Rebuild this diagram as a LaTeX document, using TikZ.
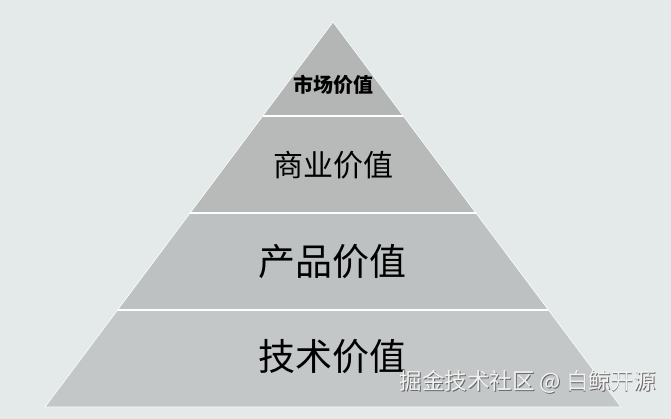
\documentclass[tikz,border=0pt]{standalone}
\usepackage{fontspec}
\newfontfamily\cjk{Noto Sans CJK SC}
\usetikzlibrary{calc}
\definecolor{bgc}{HTML}{E4E9EA}
\definecolor{l1}{HTML}{B4B5B5}
\definecolor{l2}{HTML}{B8B9B9}
\definecolor{l3}{HTML}{BEC1C1}
\definecolor{l4}{HTML}{C4C7C8}
\tikzset{
  lbl/.style={font=\cjk, text=black, inner sep=0pt},
  wmark/.style={lbl, font=\cjk\fontsize{22.5}{22.5}\selectfont},
}
\begin{document}
\begin{tikzpicture}[x=1pt,y=-1pt]
\fill[bgc] (0,0) rectangle (671,419);
\useasboundingbox (0,0) rectangle (671,419);
\coordinate (A) at (333,22);
\coordinate (L) at (45,407);
\coordinate (R) at (621,407);
\coordinate (L1) at ($(A)!0.2442!(L)$);
\coordinate (R1) at ($(A)!0.2442!(R)$);
\coordinate (L2) at ($(A)!0.4961!(L)$);
\coordinate (R2) at ($(A)!0.4961!(R)$);
\coordinate (L3) at ($(A)!0.748!(L)$);
\coordinate (R3) at ($(A)!0.748!(R)$);
\fill[l1] (A) -- (L1) -- (R1) -- cycle;
\fill[l2] (L1) -- (L2) -- (R2) -- (R1) -- cycle;
\fill[l3] (L2) -- (L3) -- (R3) -- (R2) -- cycle;
\fill[l4] (L3) -- (L) -- (R) -- (R3) -- cycle;
\draw[white, line width=0.6pt] (A) -- (L) -- (R) -- cycle;
\draw[white, line width=1.8pt] (L1) -- (R1);
\draw[white, line width=1.8pt] (L2) -- (R2);
\draw[white, line width=1.8pt] (L3) -- (R3);
\node[lbl, font=\cjk\bfseries\fontsize{20}{20}\selectfont] (t1) at (333,85) {市场价值};
\node[lbl, font=\cjk\fontsize{30}{30}\selectfont] (t2) at (333,165) {商业价值};
\node[lbl, font=\cjk\fontsize{37}{37}\selectfont] (t3) at (332,262) {产品价值};
\node[lbl, font=\cjk\fontsize{37}{37}\selectfont] (t4) at (332,357) {技术价值};
\node[wmark, text=black!60] (wms) at (528.8,382.8) {掘金技术社区 @ 白鲸开源};
\node[wmark, text=white!95!black] (wm) at (528,382) {掘金技术社区 @ 白鲸开源};
\end{tikzpicture}
\end{document}
